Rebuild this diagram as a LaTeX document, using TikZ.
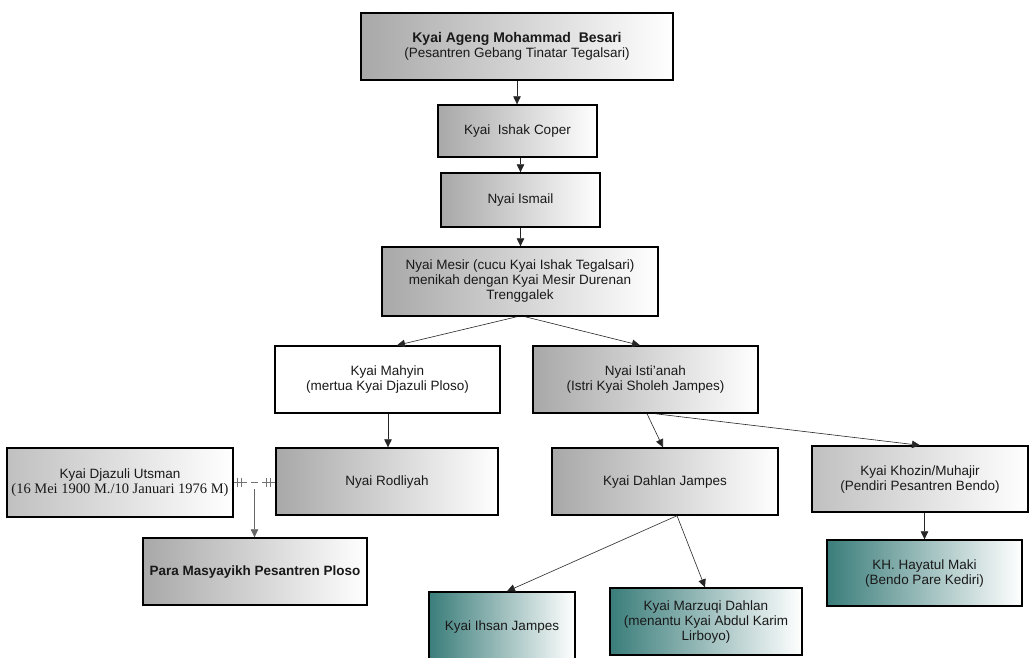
\documentclass[tikz,border=0pt]{standalone}
\usepackage{fontspec}
\setmainfont{Liberation Sans}
\newfontfamily\seriffont{Liberation Serif}
\usetikzlibrary{arrows.meta,calc}
\definecolor{boxgray}{RGB}{168,168,168}
\definecolor{boxlight}{RGB}{192,192,192}
\definecolor{teal1}{RGB}{58,125,122}
\tikzset{
  box/.style={draw=black, line width=1.4pt, rectangle, inner sep=0pt, align=center,
    font=\fontsize{13.5}{15}\selectfont, text=black!90},
  graybox/.style={box, left color=boxgray, right color=white},
  lightbox/.style={box, left color=boxlight, right color=white},
  whitebox/.style={box, fill=white},
  tealbox/.style={box, left color=teal1, right color=white},
  arr/.style={line width=0.6pt, black!85, -{Triangle[length=8pt,width=7.5pt]}},
  link/.style={line width=0.8pt, black!55},
}
\begin{document}
\begin{tikzpicture}[x=1pt,y=-1pt]
\useasboundingbox (0,0) rectangle (1030,657);
\fill[white] (0,0) rectangle (1030,657);
\begin{scope}
\clip (0,0) rectangle (1030,657);
\node[graybox, minimum width=312, minimum height=67] (b1) at (517,46.5)
  {{\fontsize{14}{15}\selectfont\textbf{Kyai Ageng Mohammad\ \ Besari}}\\(Pesantren Gebang Tinatar Tegalsari)};
\node[graybox, minimum width=159, minimum height=52] (b2) at (517.5,131) {Kyai\ \ Ishak Coper};
\node[graybox, minimum width=159, minimum height=54] (b3) at (520.5,200) {Nyai Ismail};
\node[graybox, minimum width=276, minimum height=69] (b4) at (520,281.5)
  {Nyai Mesir (cucu Kyai Ishak Tegalsari)\\menikah dengan Kyai Mesir Durenan\\Trenggalek};
\node[whitebox, minimum width=225, minimum height=67] (mahyin) at (387.5,379.5)
  {Kyai Mahyin\\(mertua Kyai Djazuli Ploso)};
\node[graybox, minimum width=225, minimum height=67] (ist) at (645.5,379.5)
  {Nyai Isti'anah\\(Istri Kyai Sholeh Jampes)};
\node[graybox, minimum width=222, minimum height=67] (rod) at (387,481.5) {Nyai Rodliyah};
\node[lightbox, minimum width=226, minimum height=69] (dj) at (120,482.5)
  {Kyai Djazuli Utsman\\{\seriffont\fontsize{14.5}{15}\selectfont(16 Mei 1900 M./10 Januari 1976 M)}};
\node[graybox, minimum width=224, minimum height=67] (para) at (255,571.5)
  {\textbf{Para Masyayikh Pesantren Ploso}};
\node[graybox, minimum width=226, minimum height=67] (dahlan) at (665,481.5) {Kyai Dahlan Jampes};
\node[lightbox, minimum width=216, minimum height=66] (khozin) at (920,479)
  {Kyai Khozin/Muhajir\\(Pendiri Pesantren Bendo)};
\node[tealbox, minimum width=195, minimum height=66] (hay) at (924.5,573)
  {KH. Hayatul Maki\\(Bendo Pare Kediri)};
\node[tealbox, minimum width=146, minimum height=70] (ihsan) at (502,627) {Kyai Ihsan Jampes};
\node[tealbox, minimum width=192, minimum height=67] (marz) at (706,621.5)
  {Kyai Marzuqi Dahlan\\(menantu Kyai Abdul Karim\\Lirboyo)};

% arrows
\draw[arr] (b1.south) -- (b1.south |- b2.north);
\draw[arr] (b3.north |- b2.south) -- (b3.north);
\draw[arr] (b3.south) -- (b3.south |- b4.north);
\draw[arr] ($(b4.south)+(-3,0)$) -- ($(mahyin.north)+(9.5,0)$);
\draw[arr] ($(b4.south)+(5,0)$) -- ($(ist.north)+(-5.5,0)$);
\draw[arr] ($(mahyin.south)+(0.5,0)$) -- ($(mahyin.south |- rod.north)+(0.5,0)$);
\draw[arr] ($(ist.south)+(1.5,0)$) -- ($(dahlan.north)+(-2,0)$);
\draw[arr] ($(ist.south)+(9.5,0)$) -- (khozin.north);
\draw[arr] (hay.north |- khozin.south) -- (hay.north);
\coordinate (dsplit) at ($(dahlan.south)+(12,0)$);
\draw[arr] (dsplit) -- ($(ihsan.north)+(5,0)$);
\draw[arr] (dsplit) -- ($(marz.north)+(-1,0)$);

% marriage connector
\coordinate (dje) at (dj.east |- 0,482);
\coordinate (rdw) at (rod.west |- 0,482);
\coordinate (mid) at ($(dje)!0.5!(rdw)$);
\draw[link] (dje) -- ++(13,0);
\draw[link] ($(dje)+(4,-4.5)$) -- ++(0,9);
\draw[link] ($(dje)+(8,-4.5)$) -- ++(0,9);
\draw[link] ($(mid)+(-3.5,0)$) -- ++(7,0);
\draw[link] (rdw) -- ++(-13,0);
\draw[link] ($(rdw)+(-5,-4.5)$) -- ++(0,9);
\draw[link] ($(rdw)+(-9,-4.5)$) -- ++(0,9);
\draw[arr, black!60] ($(mid)+(0,7)$) -- (mid |- para.north);
\end{scope}
\end{tikzpicture}
\end{document}
